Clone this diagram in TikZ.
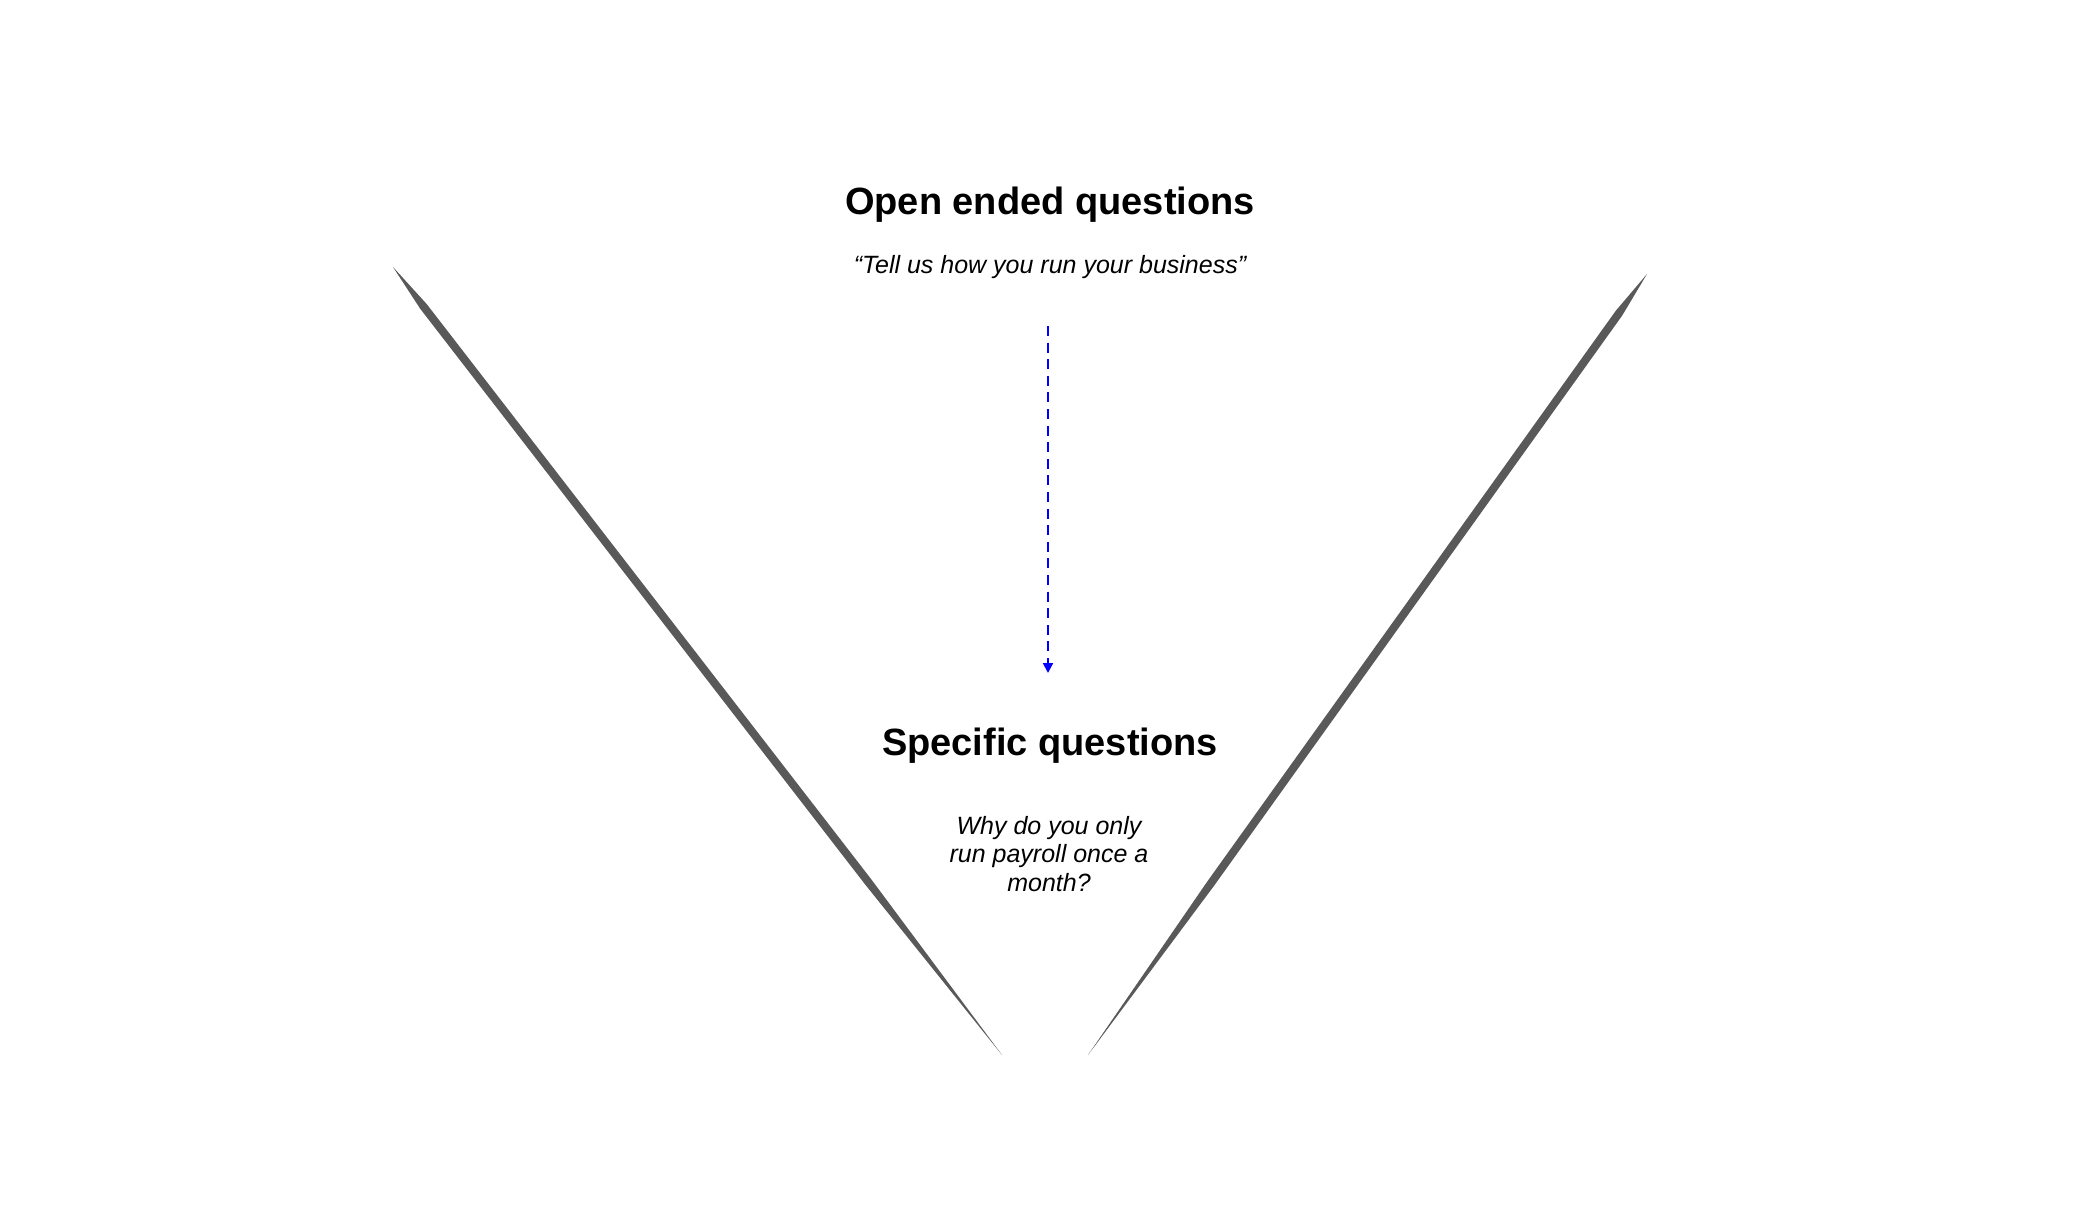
\documentclass[tikz,border=0pt]{standalone}
\usepackage{fontspec}
\setmainfont{Liberation Sans}
\usetikzlibrary{arrows.meta, calc}

\begin{document}
\begin{tikzpicture}[
    x=0.5pt, y=-0.5pt,
    >=Stealth,
    % Styles for the funnel picture
    head_lbl/.style={font=\fontsize{19}{22}\selectfont\bfseries, anchor=base, inner sep=0pt},
    quote_lbl/.style={font=\fontsize{12.5}{14.3}\selectfont\itshape, align=center, inner sep=0pt},
    funnel_side/.style={fill=black!65, draw=none},
    flow_arrow/.style={blue, line width=1pt, dash pattern=on 5pt off 3.3pt, -{Triangle[length=5pt, width=5pt]}}
]
    \useasboundingbox (0,0) rectangle (2078,1206);

    % --- Funnel sides (tapered strokes) ---
    \coordinate (lt) at (393,267);
    \coordinate (lb) at (1002,1055);
    \coordinate (rt) at (1647,274);
    \coordinate (rb) at (1088,1055);
    \coordinate (l1) at ($(lt)!0.05!(lb)$);
    \coordinate (l2) at ($(lt)!0.78!(lb)$);
    \coordinate (r1) at ($(rt)!0.05!(rb)$);
    \coordinate (r2) at ($(rt)!0.78!(rb)$);
    \fill[funnel_side] (lt) -- ($(l1)!2pt!90:(lb)$) -- ($(l2)!2pt!90:(lb)$)
        -- (lb) -- ($(l2)!2pt!-90:(lb)$) -- ($(l1)!2pt!-90:(lb)$) -- cycle;
    \fill[funnel_side] (rt) -- ($(r1)!2pt!90:(rb)$) -- ($(r2)!2pt!90:(rb)$)
        -- (rb) -- ($(r2)!2pt!-90:(rb)$) -- ($(r1)!2pt!-90:(rb)$) -- cycle;

    % --- Texts (top and bottom of the funnel) ---
    \node[head_lbl] (open) at (1050,214) {Open ended questions};
    \node[quote_lbl, anchor=base] (openq) at (1050,273) {“Tell us how you run your business”};
    \node[head_lbl] (spec) at (1050,755) {Specific questions};
    \node[quote_lbl] (specq) at (1049,854) {Why do you only\\run payroll once a\\month?};

    % --- Narrowing arrow ---
    \coordinate (arr_s) at (1048,326);
    \coordinate (arr_e) at (1048,673);
    \draw[flow_arrow] (arr_s) -- (arr_e);

\end{tikzpicture}
\end{document}
